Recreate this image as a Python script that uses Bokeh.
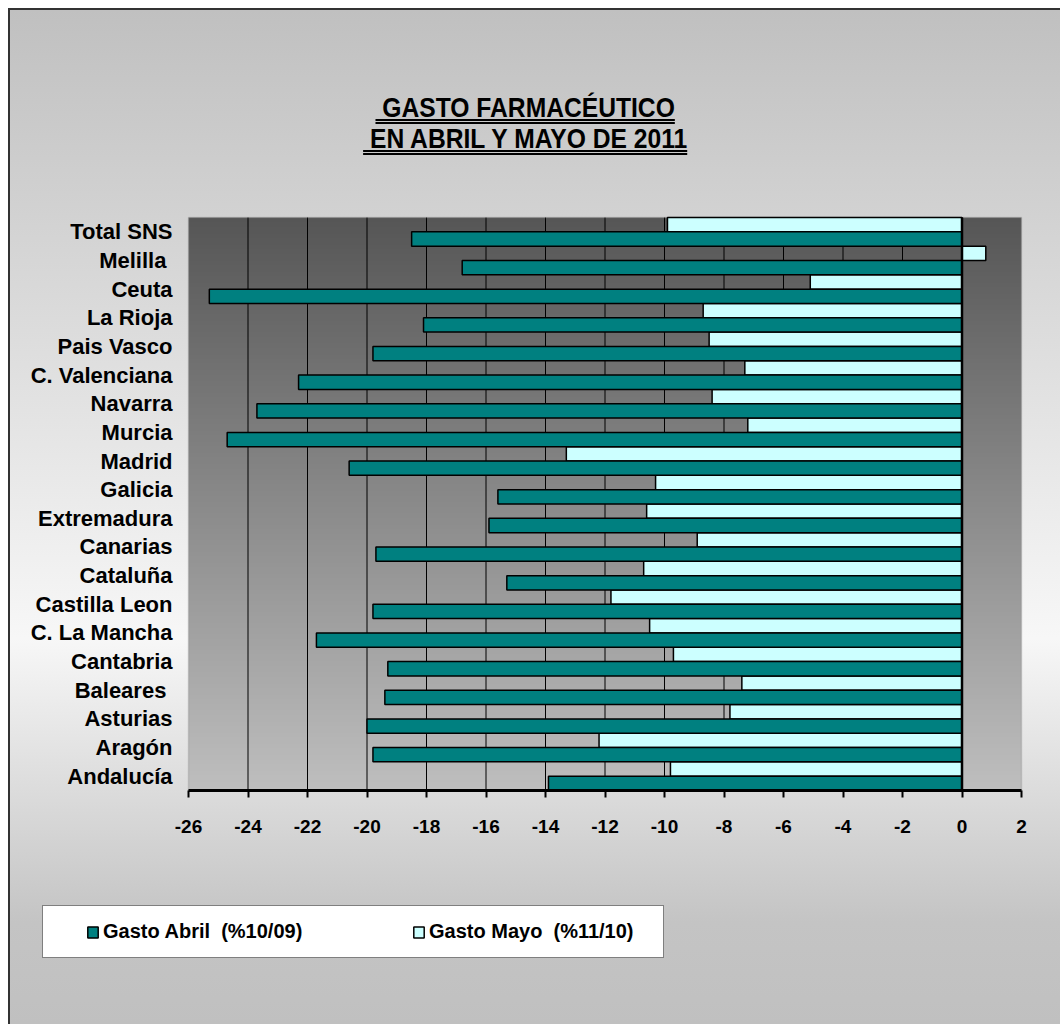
import numpy as np
from bokeh.plotting import figure
from bokeh.models import (Range1d, FixedTicker, Legend, LegendItem, LinearAxis,
                          Div, LinearColorMapper, ColumnDataSource, BoxAnnotation)
from bokeh.layouts import column
from bokeh.embed import file_html
from bokeh.resources import INLINE

# ---- data (bottom to top) ----
regions = ["Andalucía", "Aragón", "Asturias", "Baleares ", "Cantabria", "C. La Mancha",
           "Castilla Leon", "Cataluña", "Canarias", "Extremadura", "Galicia", "Madrid",
           "Murcia", "Navarra", "C. Valenciana", "Pais Vasco", "La Rioja", "Ceuta",
           "Melilla ", "Total SNS"]
gasto_abril = [-13.9, -19.8, -20.0, -19.4, -19.3, -21.7, -19.8, -15.3, -19.7, -15.9,
               -15.6, -20.6, -24.7, -23.7, -22.3, -19.8, -18.1, -25.3, -16.8, -18.5]
gasto_mayo = [-9.8, -12.2, -7.8, -7.4, -9.7, -10.5, -11.8, -10.7, -8.9, -10.6,
              -10.3, -13.3, -7.2, -8.4, -7.3, -8.5, -8.7, -5.1, 0.8, -9.9]
x_ticks = [-26, -24, -22, -20, -18, -16, -14, -12, -10, -8, -6, -4, -2, 0, 2]
x_tick_labels = ["-26", "-24", "-22", "-20", "-18", "-16", "-14", "-12", "-10",
                 "-8", "-6", "-4", "-2", "0", "2"]
label_abril = "Gasto Abril  (%10/09)"
label_mayo = "Gasto Mayo  (%11/10)"
title_lines = ["GASTO FARMACÉUTICO", "EN ABRIL Y MAYO DE 2011"]

FONT = "'Liberation Sans', Arial, sans-serif"

# ---- layout constants (pixels inside the figure) ----
FIG_W, FIG_H = 1050, 834
PA_LEFT, PA_RIGHT = 178, 1011      # plot-area edges in figure pixels
PA_TOP, PA_BOTTOM = 27, 600
X0, X1 = -26.0, 2.0
NCAT = len(regions)
xs = (PA_RIGHT - PA_LEFT) / (X1 - X0)
ys = (PA_BOTTOM - PA_TOP) / NCAT
x_range = Range1d(X0 - PA_LEFT / xs, X1 + (FIG_W - PA_RIGHT) / xs)
y_range = Range1d(0 - (FIG_H - PA_BOTTOM) / ys, NCAT + PA_TOP / ys)

pos = [i + 0.5 for i in range(NCAT)]
src = ColumnDataSource(dict(region=regions, pos=pos,
                            pos_abril=[q - 0.25 for q in pos],
                            pos_mayo=[q + 0.25 for q in pos],
                            abril=gasto_abril, mayo=gasto_mayo))

p = figure(width=FIG_W, height=FIG_H, x_range=x_range, y_range=y_range,
           output_backend="svg", toolbar_location=None,
           x_axis_location=None, y_axis_location=None,
           min_border=0, background_fill_color=None, border_fill_color=None,
           outline_line_color=None)
p.grid.visible = False

# plot-area vertical gradient (dark top, light bottom)
top_c = np.array([0x56, 0x56, 0x56])
bot_c = np.array([0xbe, 0xbe, 0xbe])
n = 256
pal = []
for i in range(n):
    t = i / (n - 1)
    c = (bot_c * (1 - t) + top_c * t).round().astype(int)
    pal.append("#%02x%02x%02x" % tuple(c))
grad = np.linspace(0, 1, n).reshape(n, 1)
p.image(image=[grad], x=X0, y=0, dw=X1 - X0, dh=NCAT,
        color_mapper=LinearColorMapper(palette=pal, low=0, high=1), level="image")

# vertical grid lines inside the plot area
inner = x_ticks[1:-1]
p.segment(x0=inner, y0=[0] * len(inner), x1=inner, y1=[NCAT] * len(inner),
          line_color="black", line_width=1, level="underlay")
p.add_layout(BoxAnnotation(left=X0, right=X1, bottom=0, top=NCAT, fill_color=None,
                           line_color="#8a8a8a", line_width=1.5, level="underlay"))

r_mayo = p.hbar(y="pos_mayo", left=0, right="mayo", height=0.5,
                source=src, fill_color="#CCFFFF", line_color="black", line_width=1.5)
r_abril = p.hbar(y="pos_abril", left=0, right="abril", height=0.5,
                 source=src, fill_color="#008080", line_color="black", line_width=1.5)

# vertical axis line at 0
p.segment(x0=[0], y0=[0], x1=[0], y1=[NCAT], line_color="black", line_width=2.5)

# x axis at the bottom of the plot area
xa = LinearAxis(fixed_location=0, bounds=(X0, X1))
xa.ticker = FixedTicker(ticks=x_ticks)
xa.major_label_overrides = {t: s for t, s in zip(x_ticks, x_tick_labels)}
xa.axis_line_color = "black"
xa.axis_line_width = 3
xa.major_tick_line_color = "black"
xa.major_tick_line_width = 2
xa.major_tick_out = 7
xa.major_tick_in = 0
xa.minor_tick_line_color = None
xa.major_label_text_font = FONT
xa.major_label_text_font_style = "bold"
xa.major_label_text_font_size = "19px"
xa.major_label_text_color = "black"
xa.major_label_standoff = 22
p.add_layout(xa, "below")

# category axis at the left edge of the plot area
ya = LinearAxis(fixed_location=X0, bounds=(0, NCAT))
ya.ticker = FixedTicker(ticks=pos)
ya.major_label_overrides = {q: r for q, r in zip(pos, regions)}
ya.axis_line_color = None
ya.major_tick_line_color = None
ya.minor_tick_line_color = None
ya.major_tick_out = 0
ya.major_tick_in = 0
ya.major_label_text_font = FONT
ya.major_label_text_font_style = "bold"
ya.major_label_text_font_size = "22px"
ya.major_label_text_color = "black"
ya.major_label_standoff = 16
p.add_layout(ya, "left")

legend = Legend(items=[LegendItem(label=label_abril, renderers=[r_abril]),
                       LegendItem(label=label_mayo, renderers=[r_mayo])],
                location=(32, 66), orientation="horizontal",
                title=" ", title_location="left", title_standoff=6,
                title_text_font_size="20px", title_text_font=FONT,
                label_text_font=FONT, label_text_font_style="bold",
                label_text_font_size="20px", label_text_color="black",
                glyph_width=13, glyph_height=14, label_standoff=4,
                label_width=220, spacing=89,
                padding=14, margin=0,
                background_fill_color="white", background_fill_alpha=1,
                border_line_color="black", border_line_width=1.5)
p.add_layout(legend)

title_html = ('<div style="width:1030px; text-align:center; font-family:%s; font-weight:bold; '
              'font-size:28px; line-height:31px; padding-top:82px; color:black;">'
              '<span style="display:inline-block; transform:scaleX(0.88); transform-origin:center; '
              'text-decoration: underline double; text-decoration-thickness:2px; '
              'text-underline-offset:2px; white-space:pre;"> %s<br> %s</span></div>'
              % (FONT.replace("'", "&#39;"), title_lines[0], title_lines[1]))
title_div = Div(text=title_html, width=1030, height=180, margin=0)

layout = column(title_div, p, spacing=0, margin=(8, 0, 0, 8),
                styles={"background": "linear-gradient(to bottom, #c0c0c0 0%, #f7f7f7 62%, #c4c4c4 90%, #c0c0c0 100%)",
                        "border-top": "2px solid #333333", "border-left": "2px solid #333333"})

open("out.html", "w").write(file_html(layout, INLINE))
